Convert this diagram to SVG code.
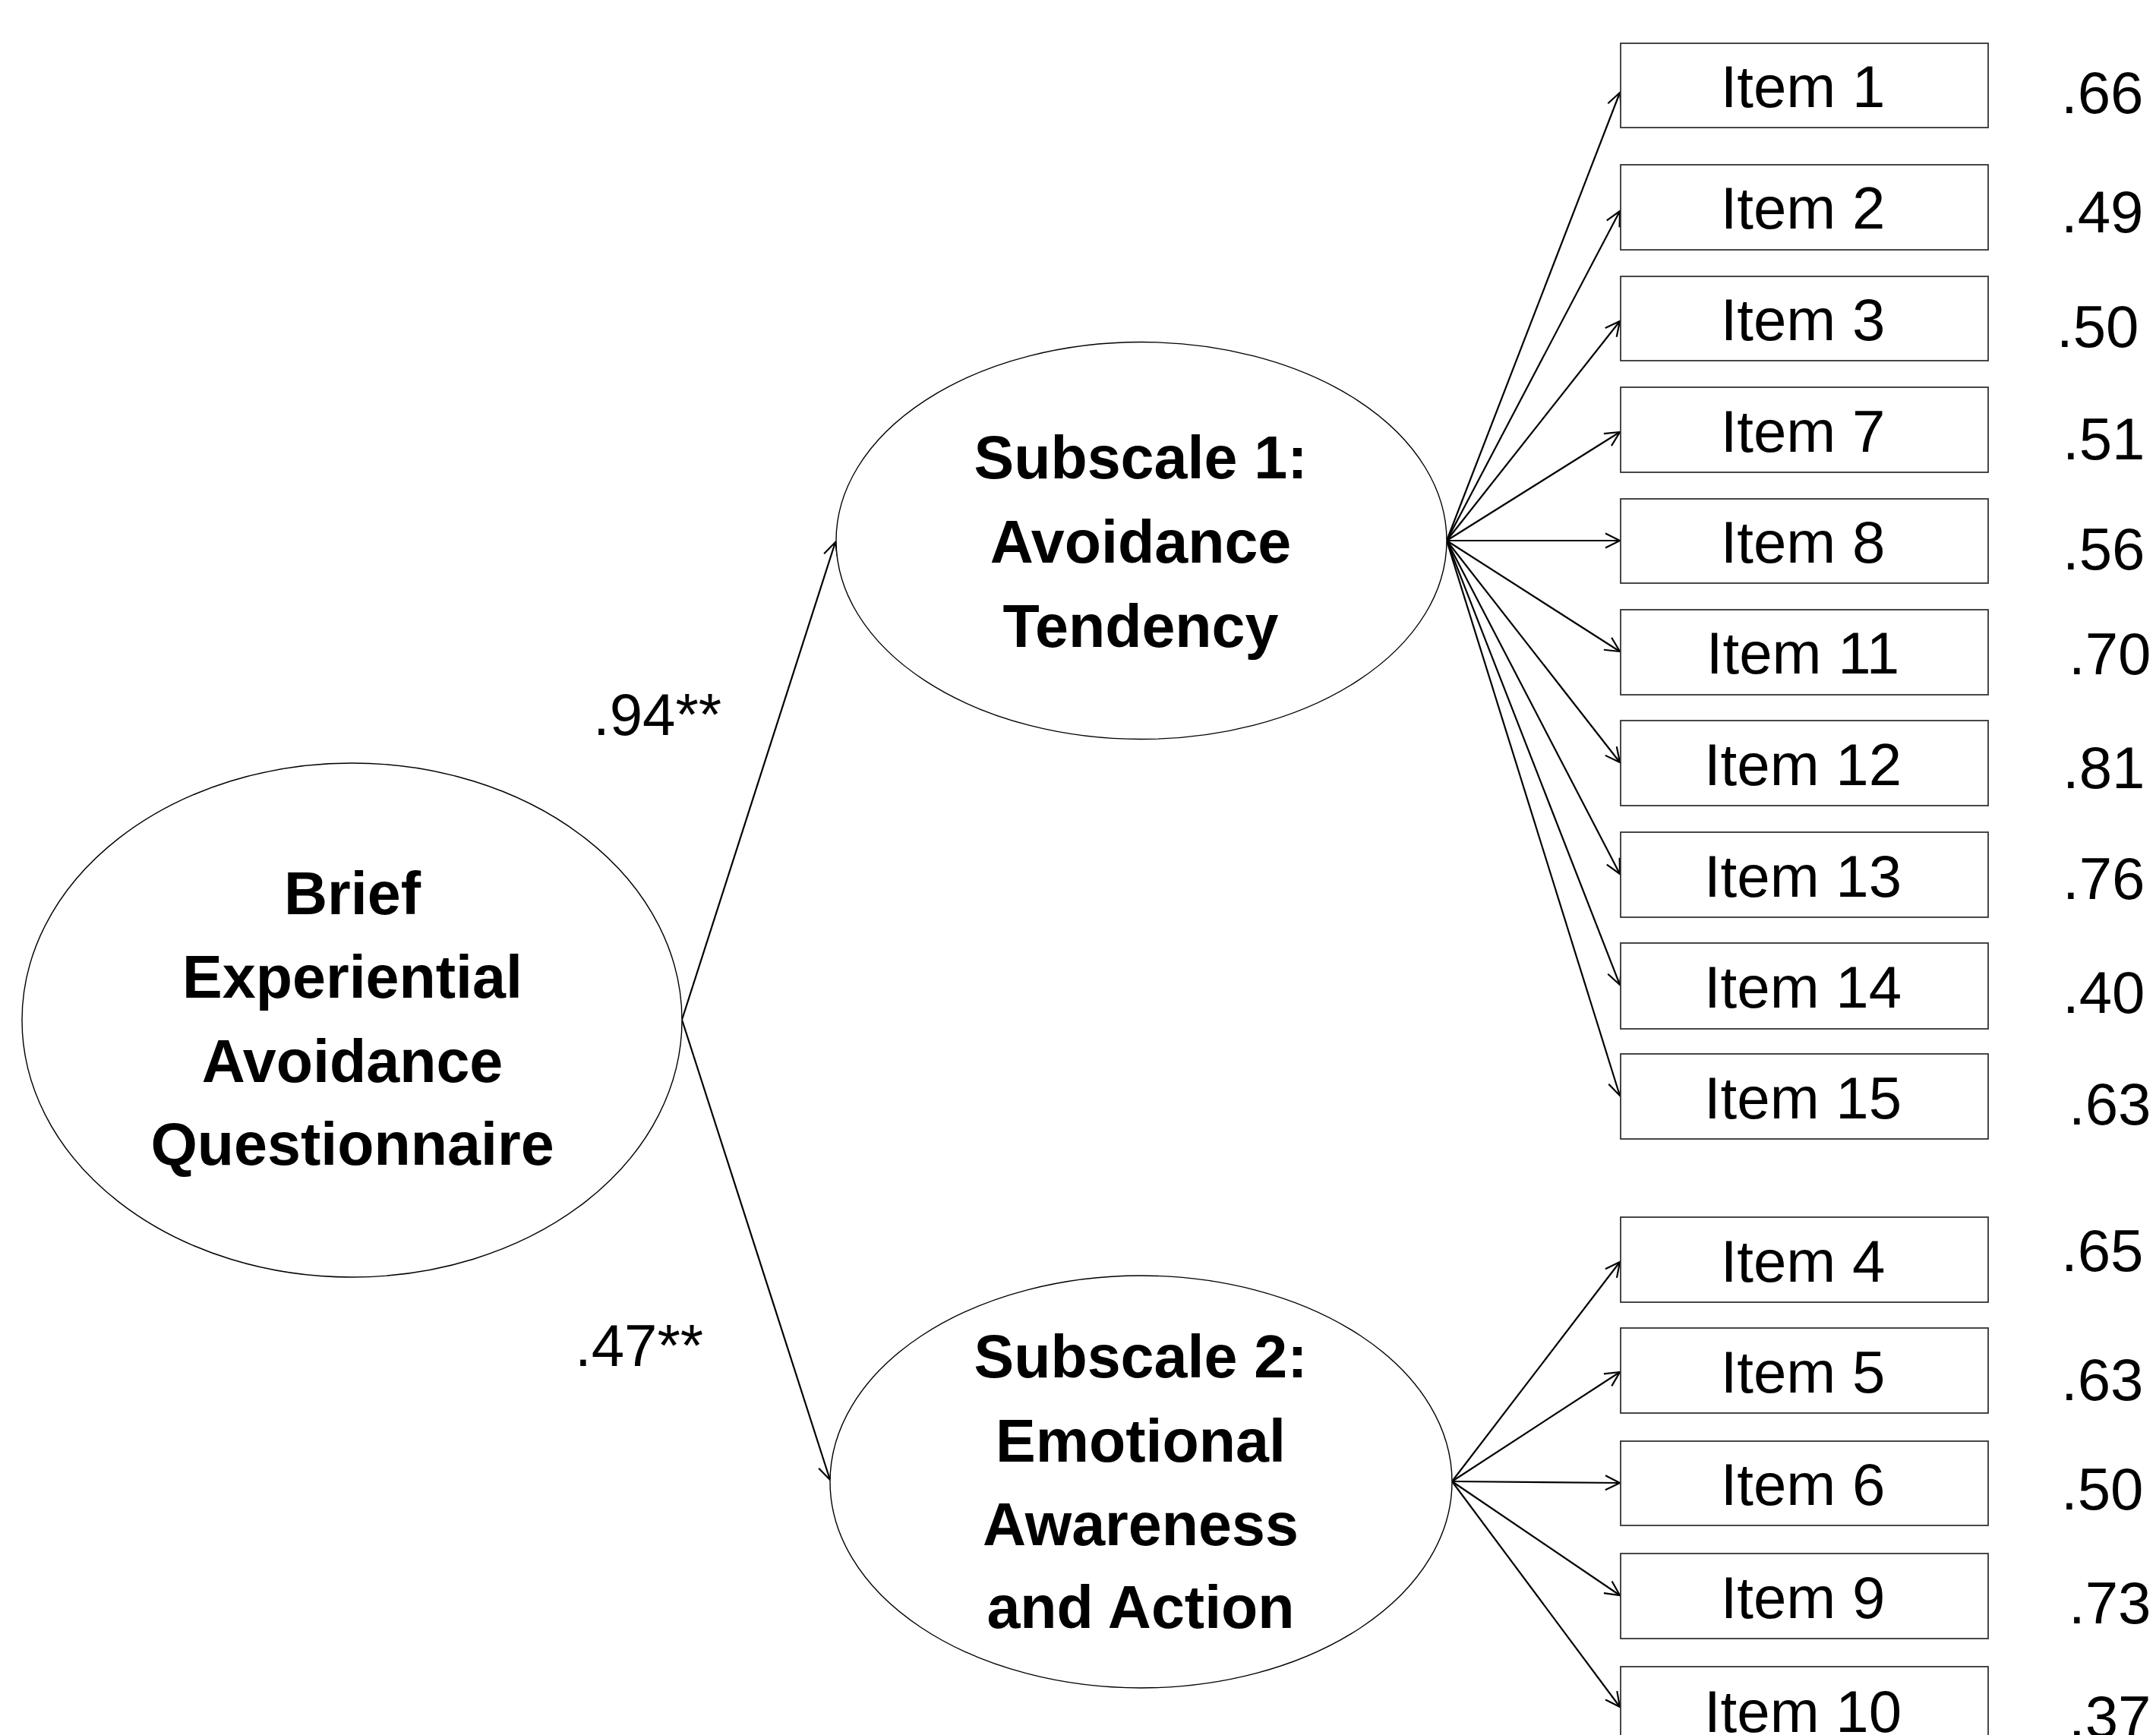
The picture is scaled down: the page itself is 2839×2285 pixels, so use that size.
<svg xmlns="http://www.w3.org/2000/svg" width="2839" height="2285" viewBox="0 0 2839 2285">
<defs>
<marker id="arr" markerUnits="userSpaceOnUse" markerWidth="24" markerHeight="24" refX="19" refY="9.5" orient="auto" overflow="visible">
<path d="M0,0 L19,9.5 L0,19" fill="none" stroke="#000" stroke-width="2.2"/>
</marker>
<style>
.ell{fill:#fff;stroke:#000;stroke-width:1.4}
.box{fill:#fff;stroke:#333;stroke-width:1.8}
.lat{font-family:"Liberation Sans",Arial,sans-serif;font-weight:bold;font-size:79px;text-anchor:middle;fill:#000}
.it{font-family:"Liberation Sans",Arial,sans-serif;font-size:78px;text-anchor:middle;fill:#000}
.val{font-family:"Liberation Sans",Arial,sans-serif;font-size:78px;fill:#000}
.con line{stroke:#000;stroke-width:2.2;marker-end:url(#arr)}
</style>
</defs>
<rect width="2839" height="2285" fill="#fff"/>

<g id="connectors" class="con">
<line x1="898" y1="1343" x2="1100" y2="714"/>
<line x1="898" y1="1343" x2="1093" y2="1949"/>
<line x1="1905" y1="712" x2="2133" y2="122"/>
<line x1="1905" y1="712" x2="2133" y2="278"/>
<line x1="1905" y1="712" x2="2133" y2="423"/>
<line x1="1905" y1="712" x2="2133" y2="569"/>
<line x1="1905" y1="712" x2="2133" y2="712"/>
<line x1="1905" y1="712" x2="2133" y2="858"/>
<line x1="1905" y1="712" x2="2133" y2="1004"/>
<line x1="1905" y1="712" x2="2133" y2="1151"/>
<line x1="1905" y1="712" x2="2133" y2="1297"/>
<line x1="1905" y1="712" x2="2133" y2="1443"/>
<line x1="1912" y1="1951" x2="2133" y2="1662"/>
<line x1="1912" y1="1951" x2="2133" y2="1807"/>
<line x1="1912" y1="1951" x2="2133" y2="1953"/>
<line x1="1912" y1="1951" x2="2133" y2="2101"/>
<line x1="1912" y1="1951" x2="2133" y2="2248"/>
</g>

<g id="beaq">
<ellipse class="ell" cx="463.5" cy="1343.5" rx="434.5" ry="338.5"/>
<text class="lat" x="464" y="1204">Brief</text>
<text class="lat" x="464" y="1314">Experiential</text>
<text class="lat" x="464" y="1425">Avoidance</text>
<text class="lat" x="464" y="1534">Questionnaire</text>
</g>

<g id="subscale1">
<ellipse class="ell" cx="1503" cy="712" rx="402" ry="261.5"/>
<text class="lat" x="1502" y="630">Subscale 1:</text>
<text class="lat" x="1502" y="741">Avoidance</text>
<text class="lat" x="1502" y="852">Tendency</text>
</g>

<g id="subscale2">
<ellipse class="ell" cx="1502.5" cy="1951.5" rx="409.5" ry="271.5"/>
<text class="lat" x="1502" y="1814">Subscale 2:</text>
<text class="lat" x="1502" y="1925">Emotional</text>
<text class="lat" x="1502" y="2035">Awareness</text>
<text class="lat" x="1502" y="2144">and Action</text>
</g>

<g id="path-labels">
<text class="val" x="781" y="968">.94**</text>
<text class="val" x="757" y="1799">.47**</text>
</g>

<g id="item1"><rect class="box" x="2134" y="57" width="484" height="111"/><text class="it" x="2374" y="141">Item 1</text><text class="val" x="2714" y="149">.66</text></g>
<g id="item2"><rect class="box" x="2134" y="217" width="484" height="112"/><text class="it" x="2374" y="301">Item 2</text><text class="val" x="2714" y="306">.49</text></g>
<g id="item3"><rect class="box" x="2134" y="364" width="484" height="111"/><text class="it" x="2374" y="448">Item 3</text><text class="val" x="2708" y="457">.50</text></g>
<g id="item7"><rect class="box" x="2134" y="510" width="484" height="112"/><text class="it" x="2374" y="595">Item 7</text><text class="val" x="2716" y="605">.51</text></g>
<g id="item8"><rect class="box" x="2134" y="657" width="484" height="111"/><text class="it" x="2374" y="741">Item 8</text><text class="val" x="2716" y="750">.56</text></g>
<g id="item11"><rect class="box" x="2134" y="803" width="484" height="112"/><text class="it" x="2374" y="887">Item 11</text><text class="val" x="2724" y="888">.70</text></g>
<g id="item12"><rect class="box" x="2134" y="949" width="484" height="112"/><text class="it" x="2374" y="1034">Item 12</text><text class="val" x="2716" y="1038">.81</text></g>
<g id="item13"><rect class="box" x="2134" y="1096" width="484" height="112"/><text class="it" x="2374" y="1181">Item 13</text><text class="val" x="2716" y="1184">.76</text></g>
<g id="item14"><rect class="box" x="2134" y="1242" width="484" height="113"/><text class="it" x="2374" y="1327">Item 14</text><text class="val" x="2716" y="1334">.40</text></g>
<g id="item15"><rect class="box" x="2134" y="1388" width="484" height="112"/><text class="it" x="2374" y="1473">Item 15</text><text class="val" x="2724" y="1481">.63</text></g>
<g id="item4"><rect class="box" x="2134" y="1603" width="484" height="112"/><text class="it" x="2374" y="1688">Item 4</text><text class="val" x="2714" y="1674">.65</text></g>
<g id="item5"><rect class="box" x="2134" y="1749" width="484" height="112"/><text class="it" x="2374" y="1834">Item 5</text><text class="val" x="2714" y="1844">.63</text></g>
<g id="item6"><rect class="box" x="2134" y="1898" width="484" height="111"/><text class="it" x="2374" y="1982">Item 6</text><text class="val" x="2714" y="1988">.50</text></g>
<g id="item9"><rect class="box" x="2134" y="2046" width="484" height="112"/><text class="it" x="2374" y="2131">Item 9</text><text class="val" x="2724" y="2138">.73</text></g>
<g id="item10"><rect class="box" x="2134" y="2195" width="484" height="112"/><text class="it" x="2374" y="2281">Item 10</text><text class="val" x="2724" y="2288">.37</text></g>
</svg>
